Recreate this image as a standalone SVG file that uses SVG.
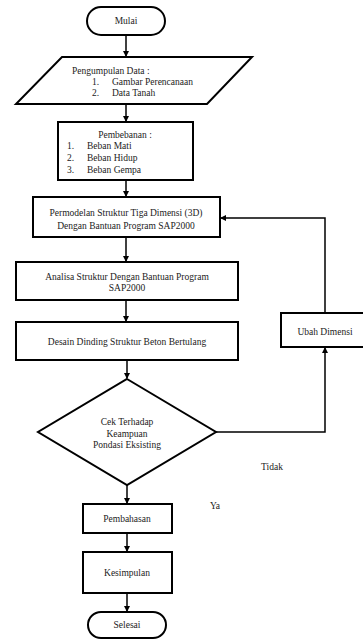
<svg xmlns="http://www.w3.org/2000/svg" width="363" height="639" viewBox="0 0 363 639">
<style>
.s{fill:#fff;stroke:#000;stroke-width:2}
text{font-family:'Liberation Serif','DejaVu Serif',serif;font-size:9.5px;fill:#222}
.m{text-anchor:middle}
.c{fill:none;stroke:#000;stroke-width:1.5}
</style>
<defs>
<marker id="a" markerWidth="6" markerHeight="6" refX="5" refY="3" orient="auto" markerUnits="userSpaceOnUse">
<path d="M0,0 L6,3 L0,6 Z" fill="#000"/>
</marker>
</defs>
<rect width="363" height="639" fill="#fff"/>
<g id="connectors">
<line class="c" x1="126" y1="35" x2="126" y2="56" marker-end="url(#a)"/>
<line class="c" x1="126" y1="104" x2="126" y2="121" marker-end="url(#a)"/>
<line class="c" x1="126" y1="180" x2="126" y2="196" marker-end="url(#a)"/>
<line class="c" x1="126" y1="237" x2="126" y2="261" marker-end="url(#a)"/>
<line class="c" x1="126" y1="300" x2="126" y2="321" marker-end="url(#a)"/>
<line class="c" x1="127" y1="360" x2="127" y2="378" marker-end="url(#a)"/>
<line class="c" x1="127" y1="485" x2="127" y2="503" marker-end="url(#a)"/>
<line class="c" x1="127" y1="533" x2="127" y2="551" marker-end="url(#a)"/>
<line class="c" x1="127" y1="593" x2="127" y2="611" marker-end="url(#a)"/>
<polyline class="c" points="216,432 325,432 325,348" marker-end="url(#a)"/>
<polyline class="c" points="325,313 325,218 221,218" marker-end="url(#a)"/>
</g>
<g id="mulai">
<rect class="s" x="87" y="7" width="78" height="28" rx="14"/>
<text class="m" x="126" y="24">Mulai</text>
</g>
<g id="pengumpulan">
<polygon class="s" points="62,57 252,57 207,104 16,104"/>
<text x="72" y="74">Pengumpulan Data :</text>
<text x="92" y="85">1.</text>
<text x="112" y="85">Gambar Perencanaan</text>
<text x="92" y="96">2.</text>
<text x="112" y="96">Data Tanah</text>
</g>
<g id="pembebanan">
<rect class="s" x="58" y="122" width="135" height="58"/>
<text class="m" x="125" y="138">Pembebanan :</text>
<text x="67" y="149">1.</text>
<text x="87" y="149">Beban Mati</text>
<text x="67" y="161">2.</text>
<text x="87" y="161">Beban Hidup</text>
<text x="67" y="173">3.</text>
<text x="87" y="173">Beban Gempa</text>
</g>
<g id="permodelan">
<rect class="s" x="33" y="197" width="187" height="40"/>
<text class="m" x="126" y="216">Permodelan Struktur Tiga Dimensi (3D)</text>
<text class="m" x="126" y="229">Dengan Bantuan Program SAP2000</text>
</g>
<g id="analisa">
<rect class="s" x="16" y="262" width="222" height="38"/>
<text class="m" x="127" y="280">Analisa Struktur Dengan Bantuan Program</text>
<text class="m" x="127" y="291">SAP2000</text>
</g>
<g id="desain">
<rect class="s" x="16" y="322" width="222" height="38"/>
<text class="m" x="127" y="345">Desain Dinding Struktur Beton Bertulang</text>
</g>
<g id="ubah">
<rect class="s" x="281" y="313" width="90" height="34"/>
<text class="m" x="325" y="335">Ubah Dimensi</text>
</g>
<g id="cek">
<polygon class="s" points="127,379 216,432 127,485 38,432"/>
<text class="m" x="127" y="425">Cek Terhadap</text>
<text class="m" x="127" y="437">Keampuan</text>
<text class="m" x="127" y="448">Pondasi Eksisting</text>
</g>
<text class="m" x="272" y="470">Tidak</text>
<text class="m" x="215" y="509">Ya</text>
<g id="pembahasan">
<rect class="s" x="83" y="504" width="89" height="29"/>
<text class="m" x="127" y="522">Pembahasan</text>
</g>
<g id="kesimpulan">
<rect class="s" x="83" y="552" width="89" height="41"/>
<text class="m" x="127" y="576">Kesimpulan</text>
</g>
<g id="selesai">
<rect class="s" x="88" y="612" width="78" height="26" rx="13"/>
<text class="m" x="127" y="628">Selesai</text>
</g>
</svg>
